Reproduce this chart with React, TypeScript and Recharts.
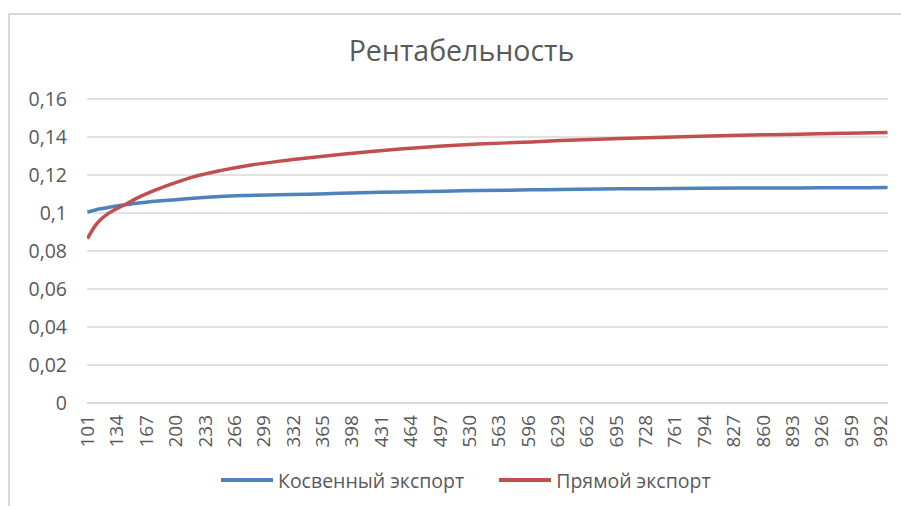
import React from 'react';
import { LineChart, Line, XAxis, YAxis, CartesianGrid, Legend } from 'recharts';

const FONT = "'Open Sans', 'Noto Sans', sans-serif";
const TEXT_COLOR = '#595959';

const chartTitle = 'Рентабельность';
const seriesNames = ['Косвенный экспорт', 'Прямой экспорт'];
const seriesColors = ['#4F81BD', '#C0504D'];

const xValues = [101, 105, 110, 116, 123, 134, 145, 156, 167, 180, 200, 220, 250, 280, 317, 350, 385, 420, 452, 500, 540, 600, 632, 700, 789, 834, 900, 950, 1000];
const indirectExport = [0.1005, 0.101, 0.1016, 0.1022, 0.1028, 0.1037, 0.1044, 0.1051, 0.1057, 0.1063, 0.107, 0.1078, 0.1087, 0.1092, 0.1096, 0.1099, 0.1104, 0.1108, 0.1111, 0.1115, 0.1118, 0.1122, 0.1124, 0.1127, 0.113, 0.1131, 0.1132, 0.1133, 0.1134];
const directExport = [0.0865, 0.0898, 0.0935, 0.0966, 0.0993, 0.1023, 0.1049, 0.1077, 0.1101, 0.1126, 0.116, 0.119, 0.1223, 0.1249, 0.1273, 0.1291, 0.1308, 0.1324, 0.1337, 0.1353, 0.1363, 0.1374, 0.1381, 0.1392, 0.1404, 0.1409, 0.1415, 0.142, 0.1424];

const xTicks = [101, 134, 167, 200, 233, 266, 299, 332, 365, 398, 431, 464, 497, 530, 563, 596, 629, 662, 695, 728, 761, 794, 827, 860, 893, 926, 959, 992];
const yTicks = [0, 0.02, 0.04, 0.06, 0.08, 0.1, 0.12, 0.14, 0.16];

const data = xValues.map((x, i) => ({ x, indirect: indirectExport[i], direct: directExport[i] }));

const fmtY = (v: number) => String(Number(v.toFixed(2))).replace('.', ',');

const XTick = (props: any) => {
  const { x, y, payload } = props;
  return (
    <text
      x={x}
      y={y}
      transform={`rotate(-90, ${x}, ${y})`}
      textAnchor="end"
      dy="0.35em"
      fill={TEXT_COLOR}
      fontSize={19}
      fontFamily={FONT}
    >
      {payload.value}
    </text>
  );
};

const renderLegend = (props: any) => {
  const { payload } = props;
  return (
    <div style={{ display: 'flex', alignItems: 'center', height: 30, fontFamily: FONT, fontSize: 19.5, color: TEXT_COLOR, whiteSpace: 'nowrap' }}>
      {(payload || []).map((entry: any, i: number) => (
        <div key={i} style={{ display: 'flex', alignItems: 'center', marginRight: i === 0 ? 35 : 0 }}>
          <span style={{ display: 'inline-block', width: 52, height: 4, background: entry.color, marginRight: 5 }} />
          <span>{entry.value}</span>
        </div>
      ))}
    </div>
  );
};

export default function App() {
  return (
    <div style={{ position: 'absolute', left: 0, top: 0, width: 901, height: 506, background: '#fff', overflow: 'hidden' }}>
      <div style={{ position: 'absolute', left: 8, top: 13, width: 1000, height: 600, borderLeft: '2.5px solid #d9d9d9', borderTop: '2.5px solid #d9d9d9' }} />
      <div style={{ position: 'absolute', left: 161.5, top: 31, width: 600, textAlign: 'center', fontFamily: FONT, fontSize: 28.5, color: TEXT_COLOR }}>
        {chartTitle}
      </div>
      <div style={{ position: 'absolute', left: 0, top: 0 }}>
        <LineChart width={901} height={506} data={data} margin={{ top: 99, right: 13, left: 0, bottom: 11 }}>
          <CartesianGrid vertical={false} stroke="#d9d9d9" strokeWidth={1.5} />
          <XAxis
            dataKey="x"
            type="number"
            domain={[100.5, 1000.5]}
            ticks={xTicks}
            interval={0}
            tick={<XTick />}
            tickLine={false}
            tickSize={0}
            tickMargin={12}
            axisLine={{ stroke: '#d9d9d9', strokeWidth: 1.5 }}
            height={62}
            allowDataOverflow
          />
          <YAxis
            type="number"
            domain={[0, 0.16]}
            ticks={yTicks}
            interval={0}
            tickFormatter={fmtY}
            tick={{ fill: TEXT_COLOR, fontSize: 19.5, fontFamily: FONT }}
            tickLine={false}
            axisLine={false}
            tickSize={0}
            tickMargin={20}
            width={87}
          />
          <Legend
            verticalAlign="bottom"
            content={renderLegend}
            wrapperStyle={{ left: 221, width: 580, bottom: 11, height: 30 }}
          />
          <Line type="monotone" dataKey="indirect" name={seriesNames[0]} stroke={seriesColors[0]} strokeWidth={3.5} dot={false} isAnimationActive={false} />
          <Line type="monotone" dataKey="direct" name={seriesNames[1]} stroke={seriesColors[1]} strokeWidth={3.5} dot={false} isAnimationActive={false} />
        </LineChart>
      </div>
    </div>
  );
}
